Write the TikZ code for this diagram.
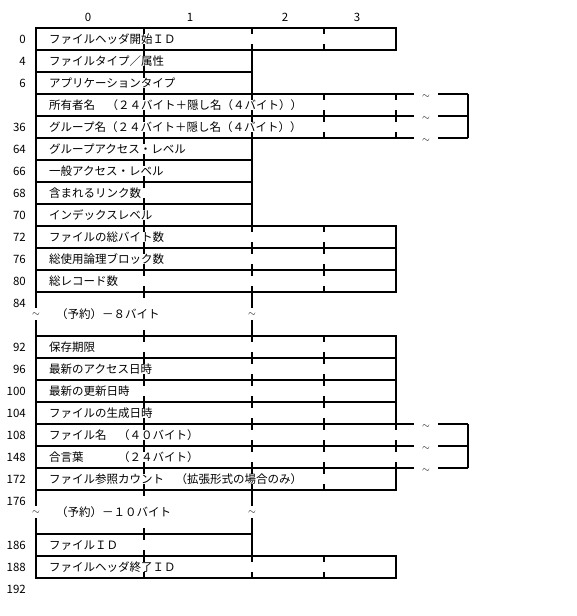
\documentclass[tikz,border=0pt]{standalone}
\usepackage{fontspec}
\setmainfont{Noto Sans CJK JP}

\begin{document}
\begin{tikzpicture}[x=1pt, y=-1pt,
    frame/.style={line width=2pt},
    tick/.style={line width=2pt, dash pattern=on 6pt off 10pt},
    field/.style={anchor=west, inner sep=0pt, font=\fontsize{11.5}{12}\selectfont},
    offset/.style={anchor=east, inner sep=0pt, font=\fontsize{11.5}{12}\selectfont},
    brk/.style={inner sep=0pt, font=\normalsize}
]
    \useasboundingbox (0,0) rectangle (576,616);

    % Byte numbers across the top
    \foreach \n/\x in {0/88, 1/190, 2/285, 3/357}
        \node[offset, anchor=center] (col\n) at (\x,17) {\n};

    % Fields (top / right edge / text)
    \foreach \y/\w/\txt in {28/396/ファイルヘッダ開始ＩＤ, 50/252/ファイルタイプ／属性,
        72/252/アプリケーションタイプ, 94/468/所有者名　（２４バイト＋隠し名（４バイト））,
        116/468/グループ名（２４バイト＋隠し名（４バイト））, 138/252/グループアクセス・レベル,
        160/252/一般アクセス・レベル, 182/252/含まれるリンク数, 204/252/インデックスレベル,
        226/396/ファイルの総バイト数, 248/396/総使用論理ブロック数, 270/396/総レコード数,
        336/396/保存期限, 358/396/最新のアクセス日時, 380/396/最新の更新日時,
        402/396/ファイルの生成日時, 424/468/ファイル名　（４０バイト）,
        446/468/合言葉　　　（２４バイト）, 468/396/ファイル参照カウント　（拡張形式の場合のみ）,
        534/252/ファイルＩＤ, 556/396/ファイルヘッダ終了ＩＤ} {
        \ifnum\w<400 \draw[frame] (36,\y) rectangle (\w,\y+22); \fi
        \foreach \x in {144,252,324,396} {
            \ifnum\x<\w \draw[tick] (\x,\y) -- (\x,\y+22); \fi
        }
        \node[field] (f\y) at (49,\y+11) {\txt};
    }

    % Long fields, cut off on the right
    \foreach \y in {94,424} {
        \draw[frame] (36,\y) -- (36,\y+44);
        \draw[frame] (468,\y) -- (468,\y+44);
        \foreach \d in {0,22,44} {
            \draw[frame] (36,\y+\d) -- (414,\y+\d);
            \draw[frame] (438,\y+\d) -- (468,\y+\d);
            \node[brk] (brk\y-\d) at (426,\y+\d+2.5) {$\sim$};
        }
    }

    % Reserved areas
    \foreach \y/\txt in {292/（予約）－８バイト, 490/（予約）－１０バイト} {
        \foreach \x in {36,252} {
            \draw[frame] (\x,\y) -- (\x,\y+16);
            \draw[frame] (\x,\y+28) -- (\x,\y+44);
            \node[brk] (gap\y-\x) at (\x,\y+22.5) {$\sim$};
        }
        \draw[tick, dash pattern=on 6pt off 32pt] (144,\y) -- (144,\y+44);
        \node[field] (res\y) at (56,\y+22) {\txt};
    }

    % Offsets
    \foreach \n/\y in {0/39, 4/61, 6/83, 36/127, 64/149, 66/171, 68/193, 70/215,
        72/237, 76/259, 80/281, 84/303, 92/347, 96/369, 100/391, 104/413,
        108/435, 148/457, 172/479, 176/501, 186/545, 188/567, 192/589}
        \node[offset] (off\n) at (26,\y) {\n};

\end{tikzpicture}
\end{document}
